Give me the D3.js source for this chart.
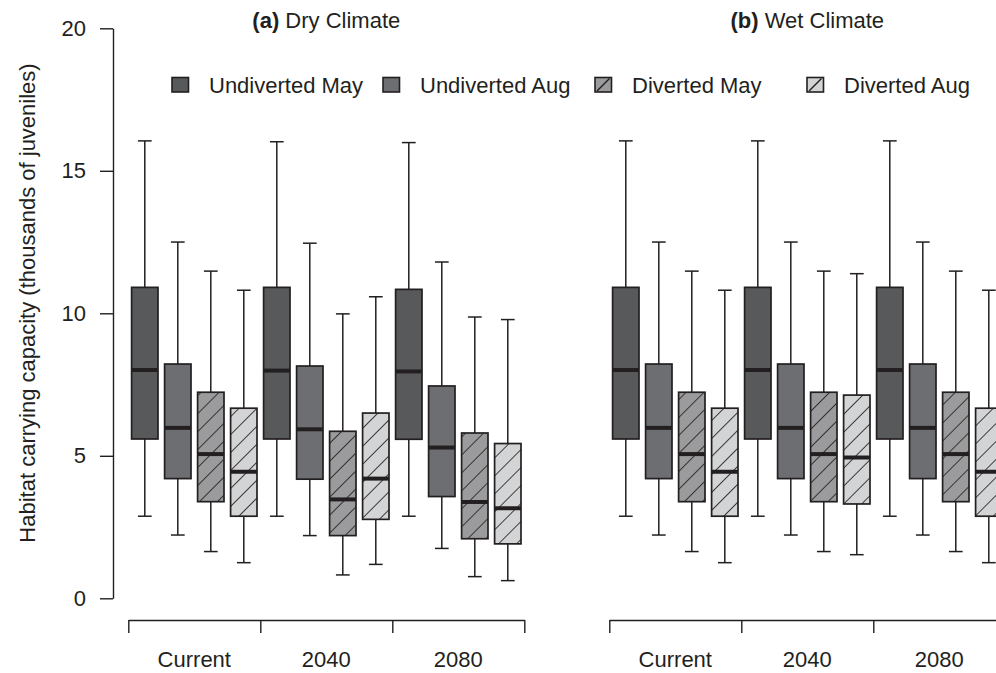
<!DOCTYPE html>
<html>
<head>
<meta charset="utf-8">
<script src="https://cdn.jsdelivr.net/npm/d3@7"></script>
<style>
  html, body { margin: 0; padding: 0; background: #fff; }
  svg { display: block; font-family: "Liberation Sans", Arial, Helvetica, sans-serif; }
</style>
</head>
<body>
<svg id="chart" width="996" height="673"></svg>
<script>
// ---------------- data ----------------
const periods = ["Current", "2040", "2080"];
const seriesNames = ["Undiverted May", "Undiverted Aug", "Diverted May", "Diverted Aug"];
const panelTitles = [["(a)", " Dry Climate"], ["(b)", " Wet Climate"]];
const yTicks = [0, 5, 10, 15, 20];

// each entry: [lower whisker, Q1, median, Q3, upper whisker] for Current, 2040, 2080
const dryUndivertedMay = [[2.88, 5.59, 8.01, 10.91, 16.05], [2.88, 5.59, 7.99, 10.91, 16.02], [2.88, 5.58, 7.96, 10.84, 15.99]];
const dryUndivertedAug = [[2.22, 4.20, 5.98, 8.22, 12.50], [2.20, 4.18, 5.93, 8.15, 12.46], [1.75, 3.57, 5.29, 7.45, 11.80]];
const dryDivertedMay   = [[1.64, 3.39, 5.06, 7.23, 11.48], [0.82, 2.20, 3.47, 5.86, 9.98], [0.76, 2.09, 3.38, 5.80, 9.87]];
const dryDivertedAug   = [[1.25, 2.88, 4.44, 6.67, 10.81], [1.19, 2.77, 4.20, 6.50, 10.58], [0.62, 1.91, 3.16, 5.43, 9.78]];

const wetUndivertedMay = [[2.88, 5.59, 8.01, 10.91, 16.05], [2.88, 5.59, 8.01, 10.91, 16.05], [2.88, 5.59, 8.01, 10.91, 16.05]];
const wetUndivertedAug = [[2.22, 4.20, 5.98, 8.22, 12.50], [2.22, 4.20, 5.98, 8.22, 12.50], [2.22, 4.20, 5.98, 8.22, 12.50]];
const wetDivertedMay   = [[1.64, 3.39, 5.06, 7.23, 11.48], [1.64, 3.39, 5.06, 7.23, 11.48], [1.64, 3.39, 5.06, 7.23, 11.48]];
const wetDivertedAug   = [[1.25, 2.88, 4.44, 6.67, 10.81], [1.53, 3.31, 4.94, 7.13, 11.39], [1.25, 2.88, 4.44, 6.67, 10.81]];

const panels = [
  [dryUndivertedMay, dryUndivertedAug, dryDivertedMay, dryDivertedAug],
  [wetUndivertedMay, wetUndivertedAug, wetDivertedMay, wetDivertedAug]
];

// ---------------- styles ----------------
const ink = "#231f20";
const fills = ["#58595b", "#6d6e71", "#9b9b9d", "#d3d4d6"];
const hatched = [false, false, true, true];
const fontSize = 22;

const svg = d3.select("#chart");
const defs = svg.append("defs");
fills.forEach((c, i) => {
  if (!hatched[i]) return;
  const p = defs.append("pattern")
    .attr("id", "hatch" + i)
    .attr("patternUnits", "userSpaceOnUse")
    .attr("width", 12.7).attr("height", 12.7)
    .attr("patternTransform", "rotate(45)");
  p.append("rect").attr("width", 12.7).attr("height", 12.7).attr("fill", c);
  p.append("line").attr("x1", 0).attr("y1", -1).attr("x2", 0).attr("y2", 14)
    .attr("stroke", ink).attr("stroke-width", 1.7);
});
const fillOf = i => hatched[i] ? `url(#hatch${i})` : fills[i];

// ---------------- scales ----------------
const y = d3.scaleLinear().domain([0, 20]).range([598.3, 28.3]);
const panelRanges = [[128.3, 524.3], [609.3, 1005.3]];

// y axis (left panel only)
const yAxis = d3.axisLeft(y).tickValues(yTicks).tickSize(13).tickSizeOuter(0).tickPadding(14);
const gy = svg.append("g").attr("transform", "translate(113,0)").call(yAxis);
gy.select(".domain").attr("stroke", ink).attr("stroke-width", 1.4);
gy.selectAll(".tick line").attr("stroke", ink).attr("stroke-width", 1.4);
gy.selectAll(".tick text").attr("fill", ink).attr("font-size", fontSize).attr("font-family", null);

// y title
svg.append("text")
  .attr("transform", "translate(35,303) rotate(-90)")
  .attr("text-anchor", "middle")
  .attr("font-size", fontSize)
  .attr("fill", ink)
  .text("Habitat carrying capacity (thousands of juveniles)");

panels.forEach((panel, pi) => {
  const [x0, x1] = panelRanges[pi];
  const xGroup = d3.scaleBand().domain(periods).range([x0, x1]).padding(0);
  const xSeries = d3.scaleBand().domain(seriesNames).range([0, xGroup.bandwidth()])
    .paddingInner(0.2).paddingOuter(0.1);
  const bw = xSeries.bandwidth();

  // x axis with boundary ticks
  const xb = d3.scaleLinear().domain([0, periods.length]).range([x0, x1]);
  const xAxis = d3.axisBottom(xb).tickValues(d3.range(periods.length + 1)).tickSize(13).tickSizeOuter(0).tickFormat("");
  const gx = svg.append("g").attr("transform", "translate(0,620)").call(xAxis);
  gx.select(".domain").attr("stroke", ink).attr("stroke-width", 1.4);
  gx.selectAll(".tick line").attr("stroke", ink).attr("stroke-width", 1.4);

  svg.append("g").selectAll("text").data(periods).join("text")
    .attr("x", d => xGroup(d) + xGroup.bandwidth() / 2)
    .attr("y", 667)
    .attr("text-anchor", "middle")
    .attr("font-size", fontSize)
    .attr("fill", ink)
    .text(d => d);

  // title
  const t = svg.append("text")
    .attr("x", (x0 + x1) / 2).attr("y", 28)
    .attr("text-anchor", "middle")
    .attr("font-size", fontSize)
    .attr("fill", ink);
  t.append("tspan").attr("font-weight", "bold").text(panelTitles[pi][0]);
  t.append("tspan").text(panelTitles[pi][1]);

  // boxes
  panel.forEach((seriesData, si) => {
    const g = svg.append("g");
    seriesData.forEach((s, gi) => {
      const [lo, q1, med, q3, hi] = s;
      const left = xGroup(periods[gi]) + xSeries(seriesNames[si]);
      const cx = left + bw / 2;
      const cap = bw * 0.52;
      // whiskers
      g.append("line").attr("x1", cx).attr("x2", cx).attr("y1", y(hi)).attr("y2", y(q3))
        .attr("stroke", ink).attr("stroke-width", 1.5);
      g.append("line").attr("x1", cx).attr("x2", cx).attr("y1", y(q1)).attr("y2", y(lo))
        .attr("stroke", ink).attr("stroke-width", 1.5);
      g.append("line").attr("x1", cx - cap / 2).attr("x2", cx + cap / 2).attr("y1", y(hi)).attr("y2", y(hi))
        .attr("stroke", ink).attr("stroke-width", 1.5);
      g.append("line").attr("x1", cx - cap / 2).attr("x2", cx + cap / 2).attr("y1", y(lo)).attr("y2", y(lo))
        .attr("stroke", ink).attr("stroke-width", 1.5);
      // box
      g.append("rect").attr("x", left).attr("width", bw)
        .attr("y", y(q3)).attr("height", y(q1) - y(q3))
        .attr("fill", fillOf(si)).attr("stroke", ink).attr("stroke-width", 1.7);
      // median
      g.append("line").attr("x1", left).attr("x2", left + bw).attr("y1", y(med)).attr("y2", y(med))
        .attr("stroke", ink).attr("stroke-width", 4);
    });
  });
});

// legend
const legendX = [172, 383, 595, 807];
const lg = svg.append("g");
seriesNames.forEach((name, i) => {
  const bx = legendX[i], by = 77.5, w = 16.5, h = 14.5;
  lg.append("rect").attr("x", bx).attr("y", by).attr("width", w).attr("height", h)
    .attr("fill", fills[i]).attr("stroke", ink).attr("stroke-width", 1.6);
  if (hatched[i]) {
    lg.append("line").attr("x1", bx + 2).attr("y1", by + h - 1).attr("x2", bx + w - 2).attr("y2", by + 1)
      .attr("stroke", ink).attr("stroke-width", 1.5);
  }
  lg.append("text").attr("x", bx + 37).attr("y", by + h + 0.5)
    .attr("font-size", fontSize).attr("fill", ink).text(name);
});
</script>
</body>
</html>
